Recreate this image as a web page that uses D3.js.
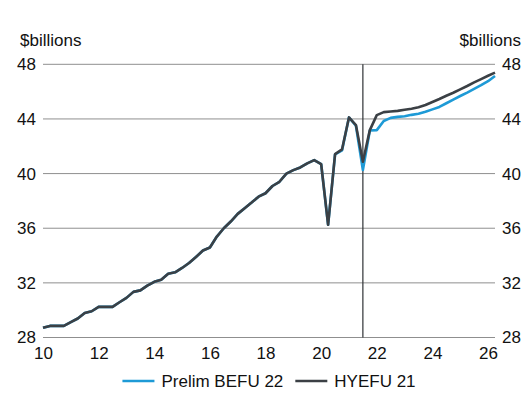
<!DOCTYPE html>
<html>
<head>
<meta charset="utf-8">
<script src="https://cdn.jsdelivr.net/npm/d3@7"></script>
<style>
  html, body { margin: 0; padding: 0; background: #fff; }
  svg { display: block; font-family: "Liberation Sans", Arial, Helvetica, sans-serif; }
</style>
</head>
<body>
<svg id="chart" width="523" height="401"></svg>
<script>
// Quarterly series, first quarter at 2010 (axis shows two-digit years)
const startYear = 10;
const quarterStep = 0.25;

const prelimBefu22 = [
  28.71, 28.85, 28.85, 28.85, 29.12, 29.39, 29.80, 29.92, 30.24, 30.24,
  30.24, 30.58, 30.90, 31.34, 31.45, 31.80, 32.08, 32.23, 32.67, 32.77,
  33.09, 33.45, 33.89, 34.37, 34.59, 35.39, 36.00, 36.49, 37.05, 37.47,
  37.88, 38.31, 38.56, 39.09, 39.40, 40.00, 40.25, 40.45, 40.75, 40.99,
  40.70, 36.25, 41.40, 41.70, 44.11, 43.50, 40.26, 43.15, 43.18, 43.85,
  44.08, 44.15, 44.20, 44.30, 44.38, 44.52, 44.70, 44.88, 45.15, 45.42,
  45.68, 45.93, 46.20, 46.47, 46.76, 47.15
];

const hyefu21 = [
  28.71, 28.85, 28.85, 28.85, 29.12, 29.39, 29.80, 29.92, 30.24, 30.24,
  30.24, 30.58, 30.90, 31.34, 31.45, 31.80, 32.08, 32.23, 32.67, 32.77,
  33.09, 33.45, 33.89, 34.37, 34.59, 35.39, 36.00, 36.49, 37.05, 37.47,
  37.88, 38.31, 38.56, 39.09, 39.40, 40.00, 40.25, 40.45, 40.75, 40.99,
  40.70, 36.25, 41.43, 41.77, 44.11, 43.55, 40.87, 43.18, 44.28, 44.50,
  44.55, 44.59, 44.67, 44.75, 44.86, 45.02, 45.24, 45.46, 45.70, 45.92,
  46.17, 46.41, 46.68, 46.92, 47.16, 47.39
];

const xTicks = [10, 12, 14, 16, 18, 20, 22, 24, 26];
const yTicks = [28, 32, 36, 40, 44, 48];
const forecastStart = 21.5;
const unitLabel = "$billions";
const seriesNames = ["Prelim BEFU 22", "HYEFU 21"];
const seriesColors = ["#1e9ad6", "#3b4045"];

const series = [
  { name: seriesNames[0], color: seriesColors[0], values: prelimBefu22 },
  { name: seriesNames[1], color: seriesColors[1], values: hyefu21 }
];

const svg = d3.select("#chart");
const margin = { left: 43, right: 28, top: 64.3, bottom: 63.5 };
const W = 523, H = 401;
const lastYear = startYear + (hyefu21.length - 1) * quarterStep;

const x = d3.scaleLinear().domain([startYear, lastYear]).range([margin.left, W - margin.right]);
const y = d3.scaleLinear().domain([28, 48]).range([H - margin.bottom, margin.top]);

// Horizontal gridlines
svg.append("g")
  .selectAll("line")
  .data(yTicks)
  .join("line")
  .attr("x1", x(startYear)).attr("x2", x(lastYear))
  .attr("y1", d => y(d)).attr("y2", d => y(d))
  .attr("stroke", "#8f8f8f").attr("stroke-width", 1);

// Left and right value axes (labels only)
const yAxisLeft = d3.axisLeft(y).tickValues(yTicks).tickSize(0).tickPadding(7);
const yAxisRight = d3.axisRight(y).tickValues(yTicks).tickSize(0).tickPadding(7);
const gl = svg.append("g").attr("transform", `translate(${x(startYear)},0)`).call(yAxisLeft);
const gr = svg.append("g").attr("transform", `translate(${x(lastYear)},0)`).call(yAxisRight);
[gl, gr].forEach(g => {
  g.select(".domain").remove();
  g.selectAll("text").attr("font-size", 17).attr("fill", "#111").attr("font-family", "Liberation Sans, Arial, sans-serif");
});

// Year axis labels
const xAxis = d3.axisBottom(x).tickValues(xTicks).tickSize(0).tickPadding(9).tickFormat(d3.format("d"));
const gx = svg.append("g").attr("transform", `translate(0,${y(28)})`).call(xAxis);
gx.select(".domain").remove();
gx.selectAll("text").attr("font-size", 17).attr("fill", "#111").attr("font-family", "Liberation Sans, Arial, sans-serif");

// Unit labels
svg.append("text").attr("x", 20).attr("y", 46).attr("font-size", 17).attr("fill", "#111").text(unitLabel);
svg.append("text").attr("x", 521).attr("y", 46).attr("text-anchor", "end").attr("font-size", 17).attr("fill", "#111").text(unitLabel);

// Forecast divider
svg.append("line")
  .attr("x1", x(forecastStart)).attr("x2", x(forecastStart))
  .attr("y1", y(48)).attr("y2", y(28))
  .attr("stroke", "#2f3236").attr("stroke-width", 1.2);

// Series lines
const line = d3.line()
  .x((d, i) => x(startYear + i * quarterStep))
  .y(d => y(d));

svg.append("g")
  .selectAll("path")
  .data(series)
  .join("path")
  .attr("d", d => line(d.values))
  .attr("fill", "none")
  .attr("stroke", d => d.color)
  .attr("stroke-width", 2.6)
  .attr("stroke-linejoin", "round");

// Legend
const legend = svg.append("g").attr("transform", "translate(0,381)");
const items = legend.selectAll("g").data(series).join("g");
items.append("line").attr("x1", 0).attr("x2", 32).attr("y1", 0).attr("y2", 0)
  .attr("stroke", d => d.color).attr("stroke-width", 2.6);
items.append("text").attr("x", 39).attr("y", 0).attr("dy", "0.35em")
  .attr("font-size", 17).attr("fill", "#111").text(d => d.name);

const widths = [];
items.each(function () { widths.push(this.getBBox().width); });
const gap = 12;
const total = d3.sum(widths) + gap * (widths.length - 1);
let cx = (x(startYear) + x(lastYear)) / 2 - total / 2;
items.attr("transform", (d, i) => {
  const t = `translate(${cx},0)`;
  cx += widths[i] + gap;
  return t;
});
</script>
</body>
</html>
